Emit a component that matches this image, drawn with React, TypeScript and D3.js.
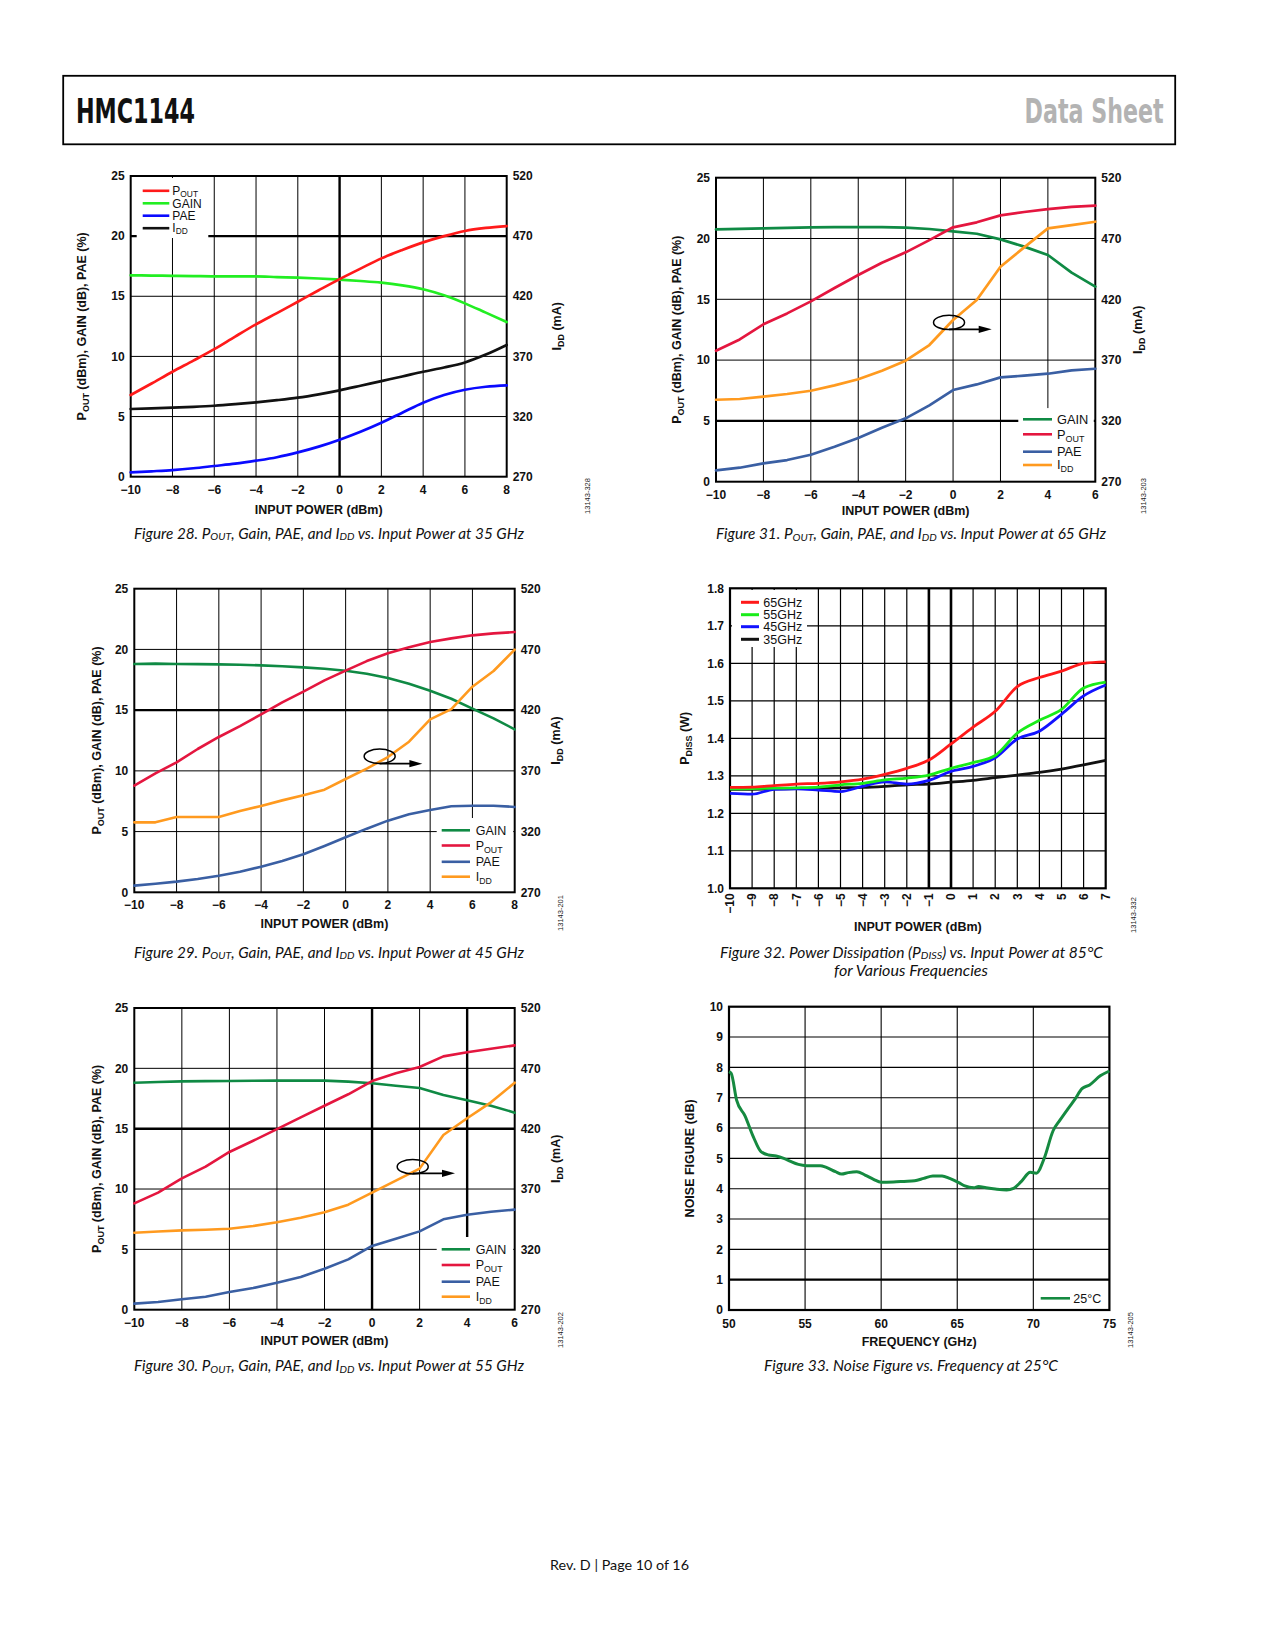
import React from "react";
import * as d3 from "d3";

const SANS = "'Liberation Sans', Arial, Helvetica, sans-serif";
const ITAL = "Lato, 'Open Sans', 'Noto Sans', sans-serif";
const NARROW = "'DejaVu Sans Condensed', 'Liberation Sans Narrow', 'DejaVu Sans', sans-serif";

const leftTicks = [0, 5, 10, 15, 20, 25];
const rightTicks = [270, 320, 370, 420, 470, 520];

// ---------- Figure 28 (35 GHz) ----------
const f28X = [-10, -9, -8, -7, -6, -5, -4, -3, -2, -1, 0, 1, 2, 3, 4, 5, 6, 7, 8];
const f28XTicks = [-10, -8, -6, -4, -2, 0, 2, 4, 6, 8];
const f28Pout = [6.79, 7.75, 8.73, 9.65, 10.6, 11.65, 12.67, 13.6, 14.55, 15.5, 16.43, 17.3, 18.15, 18.85, 19.48, 20.0, 20.43, 20.68, 20.84];
const f28Gain = [16.74, 16.72, 16.7, 16.68, 16.66, 16.66, 16.66, 16.6, 16.55, 16.48, 16.38, 16.27, 16.13, 15.9, 15.58, 15.08, 14.41, 13.64, 12.86];
const f28Pae = [0.36, 0.45, 0.55, 0.7, 0.89, 1.08, 1.33, 1.62, 2.02, 2.5, 3.08, 3.74, 4.49, 5.32, 6.15, 6.79, 7.23, 7.48, 7.59];
const f28Idd = [326.3, 326.8, 327.4, 328.1, 329, 330.3, 331.8, 333.6, 335.7, 338.5, 341.8, 345.6, 349.5, 353.3, 357.3, 360.8, 365, 371.5, 379.5];

// ---------- Figure 31 (65 GHz) ----------
const f31X = [-10, -9, -8, -7, -6, -5, -4, -3, -2, -1, 0, 1, 2, 3, 4, 5, 6];
const f31XTicks = [-10, -8, -6, -4, -2, 0, 2, 4, 6];
const f31Gain = [20.75, 20.79, 20.83, 20.88, 20.92, 20.93, 20.94, 20.93, 20.89, 20.78, 20.59, 20.39, 19.93, 19.33, 18.64, 17.19, 16.04];
const f31Pout = [10.77, 11.7, 12.94, 13.84, 14.83, 15.93, 17.0, 18.01, 18.86, 19.87, 20.92, 21.33, 21.9, 22.18, 22.42, 22.6, 22.7];
const f31Pae = [0.93, 1.15, 1.51, 1.78, 2.22, 2.88, 3.59, 4.44, 5.21, 6.28, 7.54, 8.0, 8.58, 8.72, 8.88, 9.16, 9.29];
const f31Idd = [337.4, 338, 339.9, 342.1, 344.8, 349.2, 354.2, 361.3, 369.5, 382.4, 403, 419.4, 446.8, 462.7, 478.3, 481, 483.8];

// ---------- Figure 29 (45 GHz) ----------
const f29X = [-10, -9, -8, -7, -6, -5, -4, -3, -2, -1, 0, 1, 2, 3, 4, 5, 6, 7, 8];
const f29XTicks = [-10, -8, -6, -4, -2, 0, 2, 4, 6, 8];
const f29Gain = [18.8, 18.83, 18.8, 18.79, 18.77, 18.74, 18.69, 18.62, 18.52, 18.41, 18.25, 18.0, 17.65, 17.18, 16.6, 15.94, 15.12, 14.32, 13.42];
const f29Pout = [8.78, 9.8, 10.7, 11.8, 12.79, 13.69, 14.65, 15.64, 16.52, 17.45, 18.25, 19.04, 19.68, 20.17, 20.61, 20.91, 21.16, 21.32, 21.43];
const f29Pae = [0.55, 0.71, 0.88, 1.1, 1.37, 1.7, 2.11, 2.58, 3.13, 3.81, 4.53, 5.24, 5.9, 6.42, 6.78, 7.08, 7.13, 7.13, 7.03];
const f29Idd = [327.6, 327.6, 332, 332, 332, 337, 341.1, 345.7, 349.9, 354.5, 363.3, 371.8, 381.4, 394, 412.4, 420.9, 439.3, 452.2, 469.8];

// ---------- Figure 30 (55 GHz) ----------
const f30X = [-10, -9, -8, -7, -6, -5, -4, -3, -2, -1, 0, 1, 2, 3, 4, 5, 6];
const f30XTicks = [-10, -8, -6, -4, -2, 0, 2, 4, 6];
const f30Gain = [18.81, 18.87, 18.92, 18.94, 18.95, 18.97, 18.98, 18.98, 18.98, 18.9, 18.76, 18.56, 18.37, 17.79, 17.35, 16.9, 16.33];
const f30Pout = [8.81, 9.7, 10.88, 11.85, 13.07, 14.0, 14.97, 15.94, 16.9, 17.85, 18.95, 19.59, 20.11, 20.99, 21.33, 21.63, 21.9];
const f30Pae = [0.5, 0.64, 0.86, 1.08, 1.46, 1.8, 2.24, 2.71, 3.4, 4.17, 5.28, 5.88, 6.49, 7.49, 7.87, 8.12, 8.29];
const f30Idd = [333.8, 334.8, 335.7, 336.3, 337.1, 339.3, 342.4, 346.2, 350.7, 357, 367, 376.9, 386.9, 414.8, 428.6, 441.8, 458.1];

// ---------- Figure 32 (PDISS) ----------
const f32X = [-10, -9, -8, -7, -6, -5, -4, -3, -2, -1, 0, 1, 2, 3, 4, 5, 6, 7];
const f32YTicks = [1.0, 1.1, 1.2, 1.3, 1.4, 1.5, 1.6, 1.7, 1.8];
const f32G65 = [1.269, 1.27, 1.274, 1.278, 1.28, 1.284, 1.291, 1.304, 1.32, 1.342, 1.385, 1.43, 1.472, 1.538, 1.562, 1.579, 1.6, 1.604];
const f32G55 = [1.265, 1.266, 1.267, 1.268, 1.27, 1.276, 1.28, 1.289, 1.294, 1.302, 1.32, 1.335, 1.354, 1.414, 1.448, 1.477, 1.534, 1.55];
const f32G45 = [1.253, 1.251, 1.264, 1.265, 1.262, 1.258, 1.272, 1.284, 1.278, 1.288, 1.312, 1.325, 1.348, 1.398, 1.419, 1.464, 1.513, 1.542];
const f32G35 = [1.264, 1.264, 1.265, 1.266, 1.267, 1.268, 1.269, 1.272, 1.276, 1.278, 1.283, 1.288, 1.295, 1.302, 1.309, 1.318, 1.329, 1.341];
const f32Labels = ["65GHz", "55GHz", "45GHz", "35GHz"];

// ---------- Figure 33 (Noise figure) ----------
const f33Freq = [50, 50.15, 50.5, 51.05, 51.6, 52.1, 52.6, 53.1, 53.6, 54.0, 54.56, 55.1, 56.0, 56.4, 57.0, 57.4, 57.84, 58.4, 58.94, 59.5, 60.0, 60.8, 61.5, 62.2, 62.8, 63.4, 64.0, 64.5, 65.1, 65.5, 66.1, 66.4, 66.9, 67.5, 68.25, 68.7, 69.2, 69.8, 70.2, 70.7, 71.3, 71.75, 72.3, 72.74, 73.2, 73.7, 74.4, 75];
const f33NF = [7.86, 7.8, 6.92, 6.4, 5.71, 5.22, 5.11, 5.08, 5.0, 4.91, 4.8, 4.76, 4.76, 4.7, 4.56, 4.48, 4.53, 4.56, 4.45, 4.31, 4.21, 4.22, 4.24, 4.26, 4.34, 4.42, 4.42, 4.34, 4.2, 4.09, 4.03, 4.07, 4.03, 3.99, 3.96, 4.01, 4.23, 4.54, 4.51, 4.98, 5.91, 6.26, 6.65, 6.95, 7.3, 7.42, 7.72, 7.88];
const f33XTicks = [50, 55, 60, 65, 70, 75];
const f33YTicks = [0, 1, 2, 3, 4, 5, 6, 7, 8, 9, 10];

const C_GAIN = "#0f8a44";
const C_POUT = "#e4163f";
const C_PAE = "#3a5fa3";
const C_IDD = "#ff9a1f";

const fmt = (t: number) => (t < 0 ? "\u2212" + Math.abs(t) : String(t));

type Ser = { values: number[]; color: string; right?: boolean };
type LegItem = { name: string; sub?: string; color: string };

function LegendLabel({ x, y, it, fs, subDy }: { x: number; y: number; it: LegItem; fs: number; subDy: number }) {
  return (
    <text x={x} y={y} dy="0.35em" fontSize={fs} fontFamily={SANS} fill="#111">
      {it.name}
      {it.sub ? (
        <tspan fontSize={fs * 0.7} dy={subDy}>
          {it.sub}
        </tspan>
      ) : null}
    </text>
  );
}

function Caption({ x, y, num, freq, len }: { x: number; y: number; num: string; freq: string; len: number }) {
  return (
    <text x={x} y={y} textAnchor="middle" fontFamily={ITAL} fontStyle="italic" fontSize={14.5} fill="#111" textLength={len} lengthAdjust="spacingAndGlyphs">
      {`Figure ${num}. P`}
      <tspan fontSize={10} dy={1.5}>OUT</tspan>
      <tspan dy={-1.5}>, Gain, PAE, and I</tspan>
      <tspan fontSize={10} dy={1.5}>DD</tspan>
      <tspan dy={-1.5}>{` vs. Input Power at ${freq}`}</tspan>
    </text>
  );
}

function CodeLabel({ x, y, text }: { x: number; y: number; text: string }) {
  return (
    <text transform={`translate(${x},${y}) rotate(-90)`} textAnchor="middle" dy="0.35em" fontSize={7.5} fontFamily={SANS} fill="#222">
      {text}
    </text>
  );
}

type DualProps = {
  L: number; R: number; T: number; B: number;
  xs: number[]; xDomain: [number, number]; xTicks: number[];
  thickX: number[]; thickY: number[];
  series: Ser[];
  legend: { items: LegItem[]; x0: number; x1: number; tx: number; ys: number[]; box: [number, number, number, number]; fs: number; subDy: number };
  annot?: { cx: number; cy: number; ay: number; ax: number };
  ltX: number; rtX: number; xtY: number;
  curve: d3.CurveFactory; lw: number;
  cutX?: { t: number; y1: number };
};

function DualChart(p: DualProps) {
  const x = d3.scaleLinear().domain(p.xDomain).range([p.L, p.R]);
  const y = d3.scaleLinear().domain([0, 25]).range([p.B, p.T]);
  const yR = d3.scaleLinear().domain([270, 520]).range([p.B, p.T]);
  const mk = (s: Ser) =>
    d3
      .line<number>()
      .x((_, i) => x(p.xs[i]))
      .y((v) => (s.right ? yR(v) : y(v)))
      .curve(p.curve)(s.values) || "";
  const [bx, by, bw, bh] = p.legend.box;
  return (
    <g>
      {p.xTicks
        .filter((t) => t !== p.xDomain[0] && t !== p.xDomain[1])
        .map((t) => (
          <line key={"gx" + t} x1={x(t)} x2={x(t)} y1={p.T} y2={p.cutX && p.cutX.t === t ? p.cutX.y1 : p.B} stroke="#000" strokeWidth={p.thickX.includes(t) ? 2.4 : 1} />
        ))}
      {leftTicks
        .filter((t) => t !== 0 && t !== 25)
        .map((t) => (
          <line key={"gy" + t} x1={p.L} x2={p.R} y1={y(t)} y2={y(t)} stroke="#000" strokeWidth={p.thickY.includes(t) ? 2.4 : 1} />
        ))}
      <rect x={bx} y={by} width={bw} height={bh} fill="#fff" />
      <rect x={p.L} y={p.T} width={p.R - p.L} height={p.B - p.T} fill="none" stroke="#000" strokeWidth={2} />
      {p.series.map((s, i) => (
        <path key={"s" + i} d={mk(s)} fill="none" stroke={s.color} strokeWidth={p.lw} strokeLinejoin="round" strokeLinecap="round" />
      ))}
      {p.annot ? (
        <g>
          <ellipse cx={x(p.annot.cx)} cy={y(p.annot.cy)} rx={15.5} ry={7.2} fill="none" stroke="#000" strokeWidth={1.5} />
          <line x1={x(p.annot.cx)} x2={x(p.annot.ax) - 10} y1={y(p.annot.ay)} y2={y(p.annot.ay)} stroke="#000" strokeWidth={1.8} />
          <polygon
            points={`${x(p.annot.ax)},${y(p.annot.ay)} ${x(p.annot.ax) - 13},${y(p.annot.ay) - 3.6} ${x(p.annot.ax) - 13},${y(p.annot.ay) + 3.6}`}
            fill="#000"
          />
        </g>
      ) : null}
      {p.legend.items.map((it, i) => (
        <g key={"lg" + i}>
          <line x1={p.legend.x0} x2={p.legend.x1} y1={p.legend.ys[i]} y2={p.legend.ys[i]} stroke={it.color} strokeWidth={2.6} />
          <LegendLabel x={p.legend.tx} y={p.legend.ys[i]} it={it} fs={p.legend.fs} subDy={p.legend.subDy} />
        </g>
      ))}
      {p.xTicks.map((t) => (
        <text key={"xl" + t} x={x(t)} y={p.B + 17} textAnchor="middle" fontSize={12} fontWeight="bold" fontFamily={SANS} fill="#111">
          {fmt(t)}
        </text>
      ))}
      {leftTicks.map((t) => (
        <text key={"yl" + t} x={p.L - 6} y={y(t)} dy="0.35em" textAnchor="end" fontSize={12} fontWeight="bold" fontFamily={SANS} fill="#111">
          {t}
        </text>
      ))}
      {rightTicks.map((t) => (
        <text key={"yr" + t} x={p.R + 6} y={yR(t)} dy="0.35em" textAnchor="start" fontSize={12} fontWeight="bold" fontFamily={SANS} fill="#111">
          {t}
        </text>
      ))}
      <text x={(p.L + p.R) / 2} y={p.xtY} textAnchor="middle" fontSize={12.5} fontWeight="bold" fontFamily={SANS} fill="#111">
        INPUT POWER (dBm)
      </text>
      <text transform={`translate(${p.ltX},${(p.T + p.B) / 2}) rotate(-90)`} textAnchor="middle" dy="0.35em" fontSize={12.5} fontWeight="bold" fontFamily={SANS} fill="#111">
        P<tspan fontSize={9} dy={3}>OUT</tspan>
        <tspan dy={-3}> (dBm), GAIN (dB), PAE (%)</tspan>
      </text>
      <text transform={`translate(${p.rtX},${(p.T + p.B) / 2}) rotate(-90)`} textAnchor="middle" dy="0.35em" fontSize={12.5} fontWeight="bold" fontFamily={SANS} fill="#111">
        I<tspan fontSize={9} dy={3}>DD</tspan>
        <tspan dy={-3}> (mA)</tspan>
      </text>
    </g>
  );
}

const legendStd: LegItem[] = [
  { name: "GAIN", color: C_GAIN },
  { name: "P", sub: "OUT", color: C_POUT },
  { name: "PAE", color: C_PAE },
  { name: "I", sub: "DD", color: C_IDD },
];

function Fig32() {
  const L = 730, R = 1105.7, T = 588.3, B = 888.3;
  const x = d3.scaleLinear().domain([-10, 7]).range([L, R]);
  const y = d3.scaleLinear().domain([1.0, 1.8]).range([B, T]);
  const sers = [
    { v: f32G65, c: "#ff1a1a" },
    { v: f32G55, c: "#19ec19" },
    { v: f32G45, c: "#1212ff" },
    { v: f32G35, c: "#111111" },
  ];
  const line = (vals: number[]) =>
    d3
      .line<number>()
      .x((_, i) => x(f32X[i]))
      .y((v) => y(v))
      .curve(d3.curveMonotoneX)(vals) || "";
  const legYs = [602.3, 614.7, 626.7, 639.3];
  return (
    <g>
      {f32X
        .filter((t) => t !== -10 && t !== 7)
        .map((t) => (
          <line key={"gx" + t} x1={x(t)} x2={x(t)} y1={T} y2={B} stroke="#000" strokeWidth={t === 0 || t === -1 ? 2.6 : 1.2} />
        ))}
      {f32YTicks
        .filter((t) => t > 1.0 && t < 1.8)
        .map((t) => (
          <line key={"gy" + t} x1={L} x2={R} y1={y(t)} y2={y(t)} stroke="#000" strokeWidth={1.2} />
        ))}
      <rect x={732} y={590} width={75} height={57} fill="#fff" />
      <rect x={L} y={T} width={R - L} height={B - T} fill="none" stroke="#000" strokeWidth={2.2} />
      {sers
        .slice()
        .reverse()
        .map((s, i) => (
          <path key={"p" + i} d={line(s.v)} fill="none" stroke={s.c} strokeWidth={2.8} strokeLinejoin="round" />
        ))}
      {sers.map((s, i) => (
        <g key={"l" + i}>
          <line x1={741} x2={759} y1={legYs[i]} y2={legYs[i]} stroke={s.c} strokeWidth={3} />
          <text x={763.3} y={legYs[i]} dy="0.35em" fontSize={12.5} fontFamily={SANS} fill="#111">
            {f32Labels[i]}
          </text>
        </g>
      ))}
      {f32X.map((t) => (
        <text key={"xl" + t} transform={`translate(${x(t)},${B + 5}) rotate(-90)`} textAnchor="end" dy="0.35em" fontSize={12} fontWeight="bold" fontFamily={SANS} fill="#111">
          {fmt(t)}
        </text>
      ))}
      {f32YTicks.map((t) => (
        <text key={"yl" + t} x={L - 6} y={y(t)} dy="0.35em" textAnchor="end" fontSize={12} fontWeight="bold" fontFamily={SANS} fill="#111">
          {t.toFixed(1)}
        </text>
      ))}
      <text x={(L + R) / 2} y={931} textAnchor="middle" fontSize={12.5} fontWeight="bold" fontFamily={SANS} fill="#111">
        INPUT POWER (dBm)
      </text>
      <text transform={`translate(${L - 45},${(T + B) / 2}) rotate(-90)`} textAnchor="middle" dy="0.35em" fontSize={12.5} fontWeight="bold" fontFamily={SANS} fill="#111">
        P<tspan fontSize={9} dy={3}>DISS</tspan>
        <tspan dy={-3}> (W)</tspan>
      </text>
    </g>
  );
}

function Fig33() {
  const L = 729, R = 1109.4, T = 1006.7, B = 1310;
  const x = d3.scaleLinear().domain([50, 75]).range([L, R]);
  const y = d3.scaleLinear().domain([0, 10]).range([B, T]);
  const d =
    d3
      .line<number>()
      .x((_, i) => x(f33Freq[i]))
      .y((v) => y(v))
      .curve(d3.curveMonotoneX)(f33NF) || "";
  return (
    <g>
      {f33XTicks
        .filter((t) => t !== 50 && t !== 75)
        .map((t) => (
          <line key={"gx" + t} x1={x(t)} x2={x(t)} y1={T} y2={B} stroke="#000" strokeWidth={1.1} />
        ))}
      {f33YTicks
        .filter((t) => t > 0 && t < 10)
        .map((t) => (
          <line key={"gy" + t} x1={L} x2={R} y1={y(t)} y2={y(t)} stroke="#000" strokeWidth={t === 1 ? 2.4 : 1.1} />
        ))}
      <rect x={L} y={T} width={R - L} height={B - T} fill="none" stroke="#000" strokeWidth={2.2} />
      <path d={d} fill="none" stroke="#158a40" strokeWidth={3} strokeLinejoin="round" />
      <line x1={1040.7} x2={1070} y1={1298.3} y2={1298.3} stroke="#158a40" strokeWidth={2.6} />
      <text x={1073.3} y={1298.3} dy="0.35em" fontSize={12.5} fontFamily={SANS} fill="#111">
        25°C
      </text>
      {f33XTicks.map((t) => (
        <text key={"xl" + t} x={x(t)} y={B + 18} textAnchor="middle" fontSize={12} fontWeight="bold" fontFamily={SANS} fill="#111">
          {t}
        </text>
      ))}
      {f33YTicks.map((t) => (
        <text key={"yl" + t} x={L - 6} y={y(t)} dy="0.35em" textAnchor="end" fontSize={12} fontWeight="bold" fontFamily={SANS} fill="#111">
          {t}
        </text>
      ))}
      <text x={(L + R) / 2} y={1345.5} textAnchor="middle" fontSize={12.5} fontWeight="bold" fontFamily={SANS} fill="#111">
        FREQUENCY (GHz)
      </text>
      <text transform={`translate(${L - 39},${(T + B) / 2}) rotate(-90)`} textAnchor="middle" dy="0.35em" fontSize={12.5} fontWeight="bold" fontFamily={SANS} fill="#111">
        NOISE FIGURE (dB)
      </text>
    </g>
  );
}

export default function App() {
  return (
    <svg width={1275} height={1650} viewBox="0 0 1275 1650" style={{ position: "absolute", left: 0, top: 0, background: "#fff" }}>
      <rect x={0} y={0} width={1275} height={1650} fill="#fff" />
      {/* Header */}
      <rect x={63.2} y={75.8} width={1112} height={68.5} fill="none" stroke="#000" strokeWidth={1.8} />
      <text x={76} y={123} fontFamily={NARROW} fontWeight="bold" fontSize={34} fill="#111" textLength={119} lengthAdjust="spacingAndGlyphs">
        HMC1144
      </text>
      <text x={1024.6} y={123} fontFamily={NARROW} fontWeight="bold" fontSize={34} fill="#b3b3b3" textLength={139} lengthAdjust="spacingAndGlyphs">
        Data Sheet
      </text>

      {/* Figure 28 */}
      <DualChart
        L={130.7} R={506.7} T={176} B={476.7}
        xs={f28X} xDomain={[-10, 8]} xTicks={f28XTicks}
        thickX={[0]} thickY={[20]}
        series={[
          { values: f28Idd, color: "#111111", right: true },
          { values: f28Pae, color: "#0a0aff" },
          { values: f28Gain, color: "#22ee22" },
          { values: f28Pout, color: "#ff1a1a" },
        ]}
        legend={{
          items: [
            { name: "P", sub: "OUT", color: "#ff1a1a" },
            { name: "GAIN", color: "#22ee22" },
            { name: "PAE", color: "#0a0aff" },
            { name: "I", sub: "DD", color: "#111111" },
          ],
          x0: 142.7, x1: 169.3, tx: 172.3, ys: [190.8, 203.3, 215.7, 228.2], box: [136.7, 178, 71.6, 60], fs: 12, subDy: 2,
        }}
        ltX={82} rtX={557} xtY={513.5}
        curve={d3.curveMonotoneX} lw={2.7}
      />
      <Caption x={329} y={538.5} num="28" freq="35 GHz" len={390} />
      <CodeLabel x={587} y={496} text="13143-328" />

      {/* Figure 31 */}
      <DualChart
        L={716} R={1095.3} T={177.7} B={481.7}
        xs={f31X} xDomain={[-10, 6]} xTicks={f31XTicks}
        thickX={[]} thickY={[5]}
        series={[
          { values: f31Gain, color: C_GAIN },
          { values: f31Pae, color: C_PAE },
          { values: f31Idd, color: C_IDD, right: true },
          { values: f31Pout, color: C_POUT },
        ]}
        legend={{ items: legendStd, x0: 1023, x1: 1052, tx: 1057, ys: [419.3, 434.3, 451.7, 465], box: [1018.3, 408.3, 75.5, 72], fs: 12.8, subDy: 3 }}
        annot={{ cx: -0.17, cy: 13.1, ay: 12.53, ax: 1.63 }}
        ltX={677} rtX={1138} xtY={514.5}
        curve={d3.curveLinear} lw={2.7}
        cutX={{ t: 4, y1: 408.3 }}
      />
      <Caption x={911} y={539} num="31" freq="65 GHz" len={390} />
      <CodeLabel x={1143} y={496} text="13143-203" />

      {/* Figure 29 */}
      <DualChart
        L={134.3} R={514.7} T={588.7} B={892.3}
        xs={f29X} xDomain={[-10, 8]} xTicks={f29XTicks}
        thickX={[]} thickY={[15]}
        series={[
          { values: f29Gain, color: C_GAIN },
          { values: f29Pae, color: C_PAE },
          { values: f29Idd, color: C_IDD, right: true },
          { values: f29Pout, color: C_POUT },
        ]}
        legend={{ items: legendStd, x0: 441.7, x1: 470, tx: 475.7, ys: [830.3, 845.5, 861.8, 876.7], box: [436.7, 818, 76.5, 73], fs: 12.5, subDy: 3 }}
        annot={{ cx: 1.61, cy: 11.2, ay: 10.59, ax: 3.63 }}
        ltX={97} rtX={555.5} xtY={927.5}
        curve={d3.curveLinear} lw={2.6}
        cutX={{ t: 6, y1: 818 }}
      />
      <Caption x={329} y={957.5} num="29" freq="45 GHz" len={390} />
      <CodeLabel x={560.5} y={913} text="13143-201" />

      {/* Figure 32 */}
      <Fig32 />
      <text x={911.5} y={957.5} textAnchor="middle" fontFamily={ITAL} fontStyle="italic" fontSize={14.5} fill="#111" textLength={383} lengthAdjust="spacingAndGlyphs">
        Figure 32. Power Dissipation (P<tspan fontSize={10} dy={1.5}>DISS</tspan>
        <tspan dy={-1.5}>) vs. Input Power at 85°C</tspan>
      </text>
      <text x={911} y={975.5} textAnchor="middle" fontFamily={ITAL} fontStyle="italic" fontSize={14.5} fill="#111" textLength={154} lengthAdjust="spacingAndGlyphs">
        for Various Frequencies
      </text>
      <CodeLabel x={1133} y={915} text="13143-332" />

      {/* Figure 30 */}
      <DualChart
        L={134.3} R={514.7} T={1008} B={1309.7}
        xs={f30X} xDomain={[-10, 6]} xTicks={f30XTicks}
        thickX={[0, 4]} thickY={[15]}
        series={[
          { values: f30Gain, color: C_GAIN },
          { values: f30Pae, color: C_PAE },
          { values: f30Idd, color: C_IDD, right: true },
          { values: f30Pout, color: C_POUT },
        ]}
        legend={{ items: legendStd, x0: 441.7, x1: 470, tx: 475.7, ys: [1249.3, 1265, 1281.7, 1296.7], box: [436.7, 1237, 76.5, 71.5], fs: 12.5, subDy: 3 }}
        annot={{ cx: 1.71, cy: 11.85, ay: 11.3, ax: 3.49 }}
        ltX={97} rtX={555.5} xtY={1345}
        curve={d3.curveLinear} lw={2.6}
        cutX={{ t: 4, y1: 1237 }}
      />
      <Caption x={329} y={1371} num="30" freq="55 GHz" len={390} />
      <CodeLabel x={560.5} y={1330} text="13143-202" />

      {/* Figure 33 */}
      <Fig33 />
      <text x={911} y={1371} textAnchor="middle" fontFamily={ITAL} fontStyle="italic" fontSize={14.5} fill="#111" textLength={294} lengthAdjust="spacingAndGlyphs">
        Figure 33. Noise Figure vs. Frequency at 25°C
      </text>
      <CodeLabel x={1130} y={1330} text="13143-205" />

      {/* Footer */}
      <text x={619.5} y={1570} textAnchor="middle" fontFamily={ITAL} fontSize={13.5} fill="#111" textLength={139} lengthAdjust="spacingAndGlyphs">
        Rev. D | Page 10 of 16
      </text>
    </svg>
  );
}
